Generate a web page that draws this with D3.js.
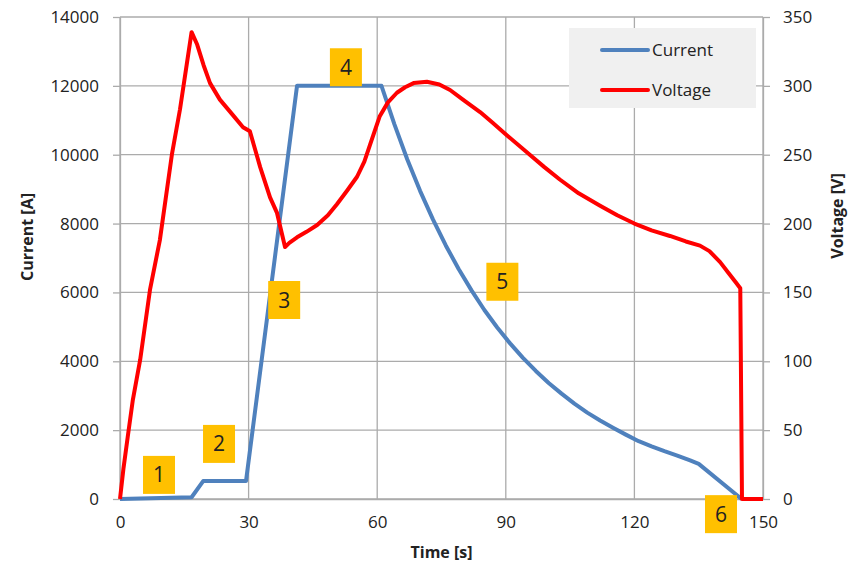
<!DOCTYPE html>
<html>
<head>
<meta charset="utf-8">
<script src="https://cdn.jsdelivr.net/npm/d3@7"></script>
<style>
  body { margin: 0; background: #fff; }
  svg { display: block; }
  text { font-family: "Open Sans", "Liberation Sans", sans-serif; fill: #222; }
</style>
</head>
<body>
<svg id="chart" width="860" height="566"></svg>
<script>
// ---- data ----
const timeTicks = [0, 30, 60, 90, 120, 150];
const currentTicks = [0, 2000, 4000, 6000, 8000, 10000, 12000, 14000];
const voltageTicks = [0, 50, 100, 150, 200, 250, 300, 350];

const currentTime = [0, 16.7, 19.4, 29.4, 41.3, 61, 64, 67, 70, 73, 76, 79, 82, 85, 88, 91, 94, 97, 100, 103, 106, 109, 112, 115, 118, 121, 124, 127, 130, 133, 135, 145];
const currentValues = [0, 50, 520, 520, 12000, 12000, 10890, 9870, 8950, 8120, 7365, 6680, 6060, 5490, 4980, 4520, 4100, 3720, 3370, 3060, 2770, 2510, 2280, 2070, 1870, 1680, 1530, 1390, 1260, 1120, 1020, 0];

const voltageTime = [0, 0.8, 1.8, 3.0, 4.7, 7.0, 9.3, 12.1, 14.0, 16.7, 18.0, 19.5, 21, 23.3, 26, 28.7, 30.3, 32.7, 35, 36.6, 38.5, 39.5, 41.3, 43.5, 46, 48.5, 50.6, 53, 55.3, 57, 58.3, 60.6, 62.5, 64.6, 66.5, 68.5, 71.6, 74.5, 77, 80, 84, 87, 90.3, 95.6, 99, 102.6, 107, 112, 116, 120, 124, 128.3, 132, 135.3, 137.5, 140, 142, 143.5, 144.7, 145.1, 150];
const voltageValues = [0, 22, 45, 72, 101, 152, 188, 250, 283, 339, 330, 315, 302, 290, 280, 270, 267, 241, 219, 208, 183, 186, 190, 194, 199, 206, 214, 224, 234, 245, 257, 278, 288, 295, 299, 302, 303, 301, 297, 290, 281, 273, 264, 250, 241, 232, 222, 213, 206, 200, 195, 191, 187, 184, 180, 172, 164, 158, 153, 0, 0];

const markerLabels = ["1", "2", "3", "4", "5", "6"];
const markerTime = [9.1, 23.1, 38.3, 52.7, 89.2, 140.2];
const markerCurrent = [700, 1600, 5780, 12540, 6310, -440];

const legendNames = ["Current", "Voltage"];
const colors = ["#4F81BD", "#FF0000"];

// ---- layout ----
const svg = d3.select("#chart");
const pLeft = 120, pRight = 763, pTop = 17, pBottom = 499;

const x = d3.scaleLinear().domain([0, 150]).range([pLeft, pRight]);
const yI = d3.scaleLinear().domain([0, 14000]).range([pBottom, pTop]);
const yV = d3.scaleLinear().domain([0, 350]).range([pBottom, pTop]);

const gridColor = "#ababab";

// grid
svg.append("g").selectAll("line").data(currentTicks).join("line")
  .attr("x1", pLeft).attr("x2", pRight)
  .attr("y1", d => yI(d)).attr("y2", d => yI(d))
  .attr("stroke", gridColor).attr("stroke-width", 1.3);
svg.append("g").selectAll("line").data(timeTicks).join("line")
  .attr("x1", d => x(d)).attr("x2", d => x(d))
  .attr("y1", pTop).attr("y2", pBottom)
  .attr("stroke", gridColor).attr("stroke-width", 1.3);

// axes
function styleAxis(g) {
  g.select(".domain").attr("stroke", gridColor).attr("stroke-width", 1.3);
  g.selectAll(".tick line").attr("stroke", gridColor).attr("stroke-width", 1.3);
  g.selectAll(".tick text").style("font-size", "17px").attr("fill", "#222")
    .style("font-family", "'Open Sans', sans-serif");
}
svg.append("g").attr("transform", `translate(${pLeft},0)`)
  .call(d3.axisLeft(yI).tickValues(currentTicks).tickSize(7).tickPadding(14).tickSizeOuter(0).tickFormat(d3.format("d")))
  .call(styleAxis);
svg.append("g").attr("transform", `translate(${pRight},0)`)
  .call(d3.axisRight(yV).tickValues(voltageTicks).tickSize(7).tickPadding(13).tickSizeOuter(0).tickFormat(d3.format("d")))
  .call(styleAxis);
svg.append("g").attr("transform", `translate(0,${pBottom})`)
  .call(d3.axisBottom(x).tickValues(timeTicks).tickSize(0).tickPadding(17).tickSizeOuter(0).tickFormat(d3.format("d")))
  .call(styleAxis);

// axis titles
svg.append("text").attr("transform", "translate(33,237) rotate(-90)")
  .attr("text-anchor", "middle").style("font-size", "16px").style("font-weight", "bold")
  .text("Current [A]");
svg.append("text").attr("transform", "translate(843,216) rotate(-90)")
  .attr("text-anchor", "middle").style("font-size", "16px").style("font-weight", "bold")
  .text("Voltage [V]");
svg.append("text").attr("x", (pLeft + pRight) / 2).attr("y", 558)
  .attr("text-anchor", "middle").style("font-size", "16px").style("font-weight", "bold")
  .text("Time [s]");

// lines
const currentPts = currentTime.map((t, i) => [t, currentValues[i]]);
const voltagePts = voltageTime.map((t, i) => [t, voltageValues[i]]);

svg.append("path").datum(currentPts)
  .attr("fill", "none").attr("stroke", colors[0]).attr("stroke-width", 4)
  .attr("stroke-linejoin", "round")
  .attr("d", d3.line().x(d => x(d[0])).y(d => yI(d[1])).curve(d3.curveLinear));

svg.append("path").datum(voltagePts)
  .attr("fill", "none").attr("stroke", colors[1]).attr("stroke-width", 4)
  .attr("stroke-linejoin", "round")
  .attr("d", d3.line().x(d => x(d[0])).y(d => yV(d[1])).curve(d3.curveLinear));

// numbered markers
const mk = svg.append("g").selectAll("g").data(markerLabels).join("g")
  .attr("transform", (d, i) => `translate(${x(markerTime[i])},${yI(markerCurrent[i])})`);
mk.append("rect").attr("x", -16).attr("y", -19).attr("width", 32).attr("height", 38)
  .attr("fill", "#FFC000");
mk.append("text").attr("text-anchor", "middle").attr("dy", "0.36em")
  .style("font-size", "21px").attr("fill", "#111").text(d => d);

// legend
const lg = svg.append("g");
lg.append("rect").attr("x", 569).attr("y", 28).attr("width", 187).attr("height", 80).attr("fill", "#f0f0f0");
legendNames.forEach((n, i) => {
  const yy = 50 + i * 40;
  lg.append("line").attr("x1", 602).attr("x2", 648).attr("y1", yy).attr("y2", yy)
    .attr("stroke", colors[i]).attr("stroke-width", 4).attr("stroke-linecap", "round");
  lg.append("text").attr("x", 652).attr("y", yy).attr("dy", "0.35em")
    .style("font-size", "17px").attr("fill", "#222").text(n);
});
</script>
</body>
</html>
